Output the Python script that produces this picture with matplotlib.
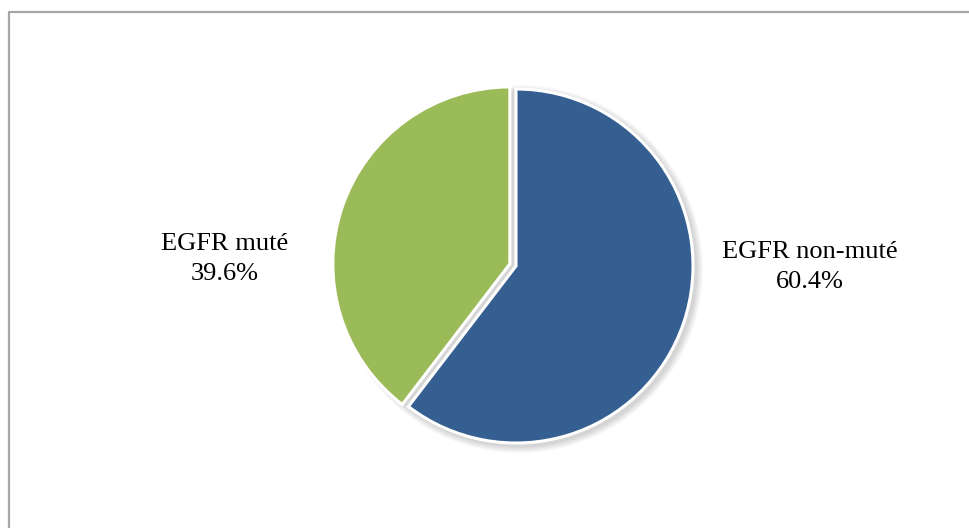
import matplotlib.pyplot as plt
from matplotlib.patches import Circle
from matplotlib.lines import Line2D

# --- data ---
labels = ["EGFR non-muté", "EGFR muté"]
values = [60.4, 39.6]
colors = ["#365F91", "#9BBB59"]
explode = [0.0, 6.5]   # pie() uses data units here (pixel-like axes)

W, H = 969, 528
fig = plt.figure(figsize=(W / 100, H / 100), dpi=100)
fig.patch.set_facecolor("white")
ax = fig.add_axes([0, 0, 1, 1])

cx, cy, r = 516, H - 266, 177

# soft shadow behind the pie
for k in range(7):
    ax.add_patch(Circle((cx + 3, cy - 3), r + 1 + k, facecolor="#000000",
                        edgecolor="none", alpha=0.025, zorder=0))

wedges, _ = ax.pie(values, colors=colors, explode=explode, startangle=90,
                   counterclock=False, center=(cx, cy), radius=r,
                   wedgeprops=dict(edgecolor="white", linewidth=2.2),
                   frame=True)
ax.set_xlim(0, W)
ax.set_ylim(0, H)
ax.set_aspect("equal")
ax.axis("off")

font = dict(family="Liberation Serif", fontsize=19, ha="center", va="center",
            linespacing=1.45)
ax.text(810, H - 267, f"{labels[0]}\n{values[0]:.1f}%", **font)
ax.text(225, H - 259, f"{labels[1]}\n{values[1]:.1f}%", **font)

# chart frame (only top and left visible in the crop)
fig.add_artist(Line2D([8.5 / W, 8.5 / W, 1], [0, 1 - 11.5 / H, 1 - 11.5 / H],
                      transform=fig.transFigure, color="#a6a6a6", lw=1.6))

fig.savefig("out.png", dpi=100)
